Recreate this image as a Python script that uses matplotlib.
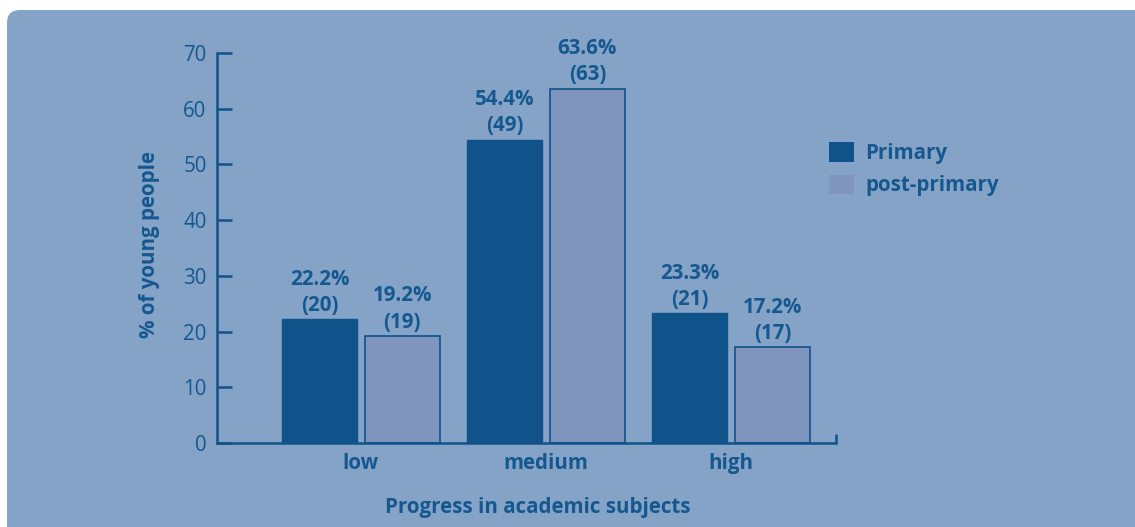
import matplotlib
matplotlib.use("Agg")
import matplotlib.pyplot as plt
from matplotlib.patches import FancyBboxPatch, Patch
import numpy as np

categories = ["low", "medium", "high"]
primary_pct = [22.2, 54.4, 23.3]
primary_n = [20, 49, 21]
post_pct = [19.2, 63.6, 17.2]
post_n = [19, 63, 17]
series_names = ["Primary", "post-primary"]
yticks = [0, 10, 20, 30, 40, 50, 60, 70]

BG = "#85a3c6"
DARK = "#10528a"
LIGHT = "#7f95bd"
TXT = "#15588f"

plt.rcParams['font.family'] = ['Open Sans', 'DejaVu Sans']

W, H = 1135, 527
fig = plt.figure(figsize=(W / 100, H / 100), dpi=100)
fig.patch.set_facecolor("white")

panel = FancyBboxPatch((7, -20), 1160, 527 - 10 + 20, boxstyle="round,pad=0,rounding_size=13",
                       transform=None, facecolor=BG, edgecolor="none", zorder=-10)
fig.patches.append(panel)

ax = fig.add_axes([217 / W, 1 - 443 / H, (836 - 217) / W, (443 - 53) / H])
ax.set_facecolor("none")
ax.set_zorder(5)

x = np.arange(len(categories))
w = 0.405
off = 0.224
b1 = ax.bar(x - off, primary_pct, w, color=DARK, edgecolor=DARK, linewidth=1.0, label=series_names[0])
b2 = ax.bar(x + off, post_pct, w, color=LIGHT, edgecolor=DARK, linewidth=1.2, label=series_names[1])

FS = 14.8
for bars, pcts, ns in ((b1, primary_pct, primary_n), (b2, post_pct, post_n)):
    for r, p, n in zip(bars, pcts, ns):
        ax.annotate(f"{p:.1f}%\n({n})", (r.get_x() + r.get_width() / 2, r.get_height()),
                    xytext=(0, 2.5), textcoords="offset points", ha="center", va="bottom",
                    fontsize=FS, fontweight="bold", color=TXT, linespacing=1.32)

ax.set_xlim(-0.778, 2.568)
ax.set_ylim(0, 70)
ax.set_yticks(yticks)
ax.set_xticks(x)
ax.set_xticklabels(categories)
for s in ("top", "right"):
    ax.spines[s].set_visible(False)
for s in ("left", "bottom"):
    ax.spines[s].set_color(DARK)
    ax.spines[s].set_linewidth(1.8)
ax.tick_params(axis="y", direction="in", length=11, width=1.8, color=DARK,
               labelcolor=TXT, labelsize=FS, pad=7.5)
ax.tick_params(axis="x", length=0, labelcolor=TXT, labelsize=FS, pad=7)
for t in ax.get_xticklabels():
    t.set_fontweight("bold")
ax.plot([1, 1], [0, 0.022], transform=ax.transAxes, color=DARK, lw=1.8, clip_on=False,
        solid_capstyle="butt")

ax.set_ylabel("% of young people", fontsize=FS, fontweight="bold", color=TXT, va="center")
ax.yaxis.set_label_coords((149 - 217) / (836 - 217), (443 - 245) / (443 - 53))
ax.set_xlabel("Progress in academic subjects", fontsize=FS, fontweight="bold", color=TXT)
ax.xaxis.set_label_coords((538 - 217) / (836 - 217), -(507 - 443) / (443 - 53))
ax.xaxis.label.set_va("center")

handles = [Patch(facecolor=DARK, edgecolor="none"), Patch(facecolor=LIGHT, edgecolor="none")]
leg = fig.legend(handles, series_names, loc="upper left",
                 bbox_to_anchor=(829 / W, 1 - 142 / H), frameon=False,
                 handlelength=1.2, handleheight=1.1, handletextpad=0.55, labelspacing=0.52,
                 prop={"size": FS, "weight": "bold"}, borderaxespad=0, borderpad=0)
for t in leg.get_texts():
    t.set_color(TXT)

fig.savefig("out.png", dpi=100, facecolor=fig.get_facecolor())
